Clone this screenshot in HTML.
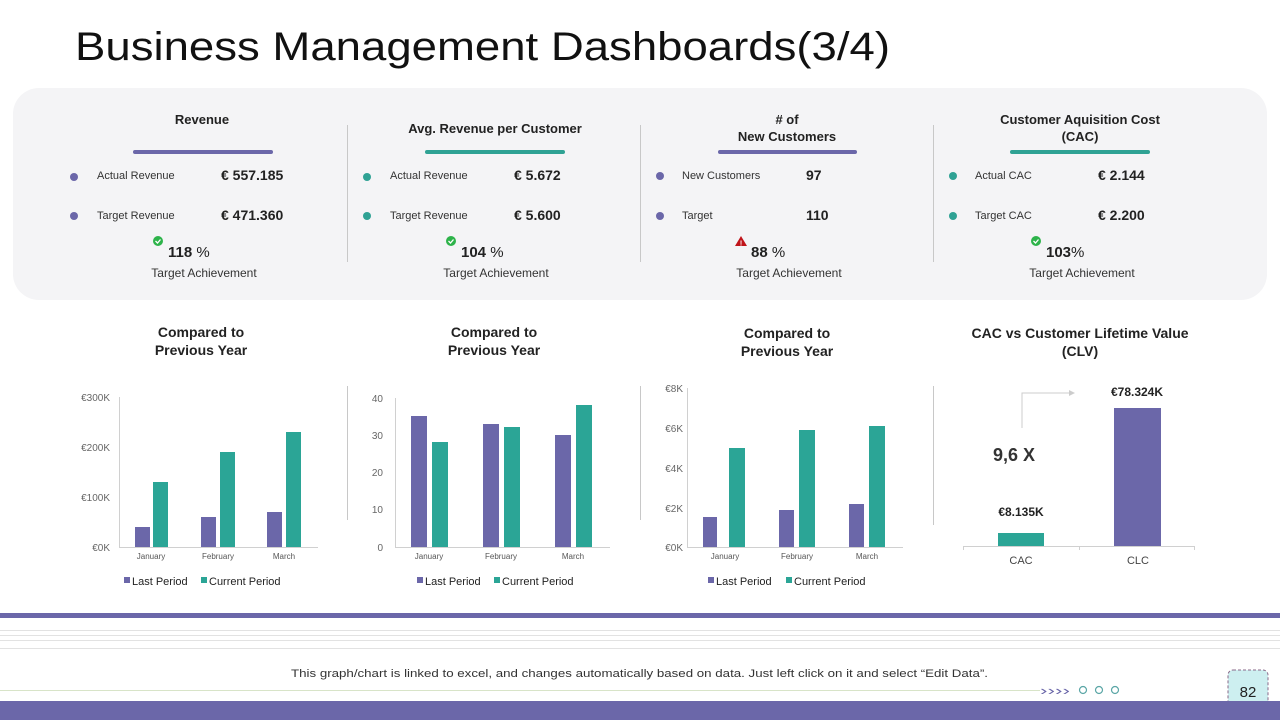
<!DOCTYPE html>
<html><head><meta charset="utf-8"><style>
html,body{margin:0;padding:0;background:#fff;}
svg{display:block;font-family:"Liberation Sans",sans-serif;}
</style></head><body>
<svg width="1280" height="720" viewBox="0 0 1280 720" xmlns="http://www.w3.org/2000/svg">
<rect width="1280" height="720" fill="#fff"/>
<text x="75" y="60" font-size="40" fill="#111" textLength="815" lengthAdjust="spacingAndGlyphs">Business Management Dashboards(3/4)</text>
<rect x="13" y="88" width="1254" height="212" rx="26" fill="#f4f4f6"/>
<g stroke="#c8c8c8" stroke-width="1">
<line x1="347.5" y1="125" x2="347.5" y2="262"/><line x1="640.5" y1="125" x2="640.5" y2="262"/><line x1="933.5" y1="125" x2="933.5" y2="262"/>
<line x1="347.5" y1="386" x2="347.5" y2="520"/><line x1="640.5" y1="386" x2="640.5" y2="520"/><line x1="933.5" y1="386" x2="933.5" y2="525"/>
</g>
<g font-weight="bold" font-size="13" fill="#222" text-anchor="middle">
<text x="202" y="124">Revenue</text>
<text x="495" y="133">Avg. Revenue per Customer</text>
<text x="787" y="124">#  of</text><text x="787" y="141">New Customers</text>
<text x="1080" y="124">Customer Aquisition Cost</text><text x="1080" y="141">(CAC)</text>
</g>
<g stroke-width="4" stroke-linecap="round">
<line x1="135" y1="152" x2="271" y2="152" stroke="#6B67A9"/>
<line x1="427" y1="152" x2="563" y2="152" stroke="#2FA294"/>
<line x1="720" y1="152" x2="855" y2="152" stroke="#6B67A9"/>
<line x1="1012" y1="152" x2="1148" y2="152" stroke="#2FA294"/>
</g>
<g fill="#6B67A9"><circle cx="74" cy="177" r="4"/><circle cx="74" cy="216" r="4"/><circle cx="660" cy="176" r="4"/><circle cx="660" cy="216" r="4"/></g>
<g fill="#2FA294"><circle cx="367" cy="177" r="4"/><circle cx="367" cy="216" r="4"/><circle cx="953" cy="176" r="4"/><circle cx="953" cy="216" r="4"/></g>
<g font-size="11" fill="#333">
<text x="97" y="179">Actual Revenue</text><text x="97" y="219">Target Revenue</text>
<text x="390" y="179">Actual Revenue</text><text x="390" y="219">Target Revenue</text>
<text x="682" y="179">New Customers</text><text x="682" y="219">Target</text>
<text x="975" y="179">Actual CAC</text><text x="975" y="219">Target CAC</text>
</g>
<g font-size="14" font-weight="bold" fill="#222">
<text x="221" y="180">€ 557.185</text><text x="221" y="220">€ 471.360</text>
<text x="514" y="180">€ 5.672</text><text x="514" y="220">€ 5.600</text>
<text x="806" y="180">97</text><text x="806" y="220">110</text>
<text x="1098" y="180">€ 2.144</text><text x="1098" y="220">€ 2.200</text>
</g>
<g fill="#2db34a"><circle cx="158" cy="241" r="5"/><circle cx="451" cy="241" r="5"/><circle cx="1036" cy="241" r="5"/></g>
<g stroke="#fff" stroke-width="1.3" fill="none"><path d="M155.5 241l2 2 3-3.5"/><path d="M448.5 241l2 2 3-3.5"/><path d="M1033.5 241l2 2 3-3.5"/></g>
<path d="M741 236l6 10h-12z" fill="#c0141a"/><text x="741" y="245.5" font-size="7" fill="#fff" text-anchor="middle" font-weight="bold">!</text>
<g font-size="15" fill="#222"><text x="168" y="257"><tspan font-weight="bold">118</tspan> %</text><text x="461" y="257"><tspan font-weight="bold">104</tspan> %</text><text x="751" y="257"><tspan font-weight="bold">88</tspan> %</text><text x="1046" y="257"><tspan font-weight="bold">103</tspan>%</text></g>
<g font-size="12" fill="#333" text-anchor="middle"><text x="204" y="277">Target Achievement</text><text x="496" y="277">Target Achievement</text><text x="789" y="277">Target Achievement</text><text x="1082" y="277">Target Achievement</text></g>
<g font-weight="bold" font-size="14" fill="#222" text-anchor="middle">
<text x="201" y="337">Compared to</text><text x="201" y="355">Previous Year</text>
<text x="494" y="337">Compared to</text><text x="494" y="355">Previous Year</text>
<text x="787" y="338">Compared to</text><text x="787" y="356">Previous Year</text>
<text x="1080" y="338">CAC vs Customer Lifetime Value</text><text x="1080" y="356">(CLV)</text>
</g>
<g stroke="#d0d0d0" stroke-width="1">
<line x1="119.5" y1="397" x2="119.5" y2="547"/><line x1="119" y1="547.5" x2="318" y2="547.5"/>
<line x1="395.5" y1="398" x2="395.5" y2="547"/><line x1="395" y1="547.5" x2="610" y2="547.5"/>
<line x1="687.5" y1="388" x2="687.5" y2="547"/><line x1="687" y1="547.5" x2="903" y2="547.5"/>
<line x1="963" y1="546.5" x2="1194" y2="546.5"/>
<line x1="963.5" y1="546" x2="963.5" y2="550"/><line x1="1079.5" y1="546" x2="1079.5" y2="550"/><line x1="1194.5" y1="546" x2="1194.5" y2="550"/>
</g>
<g font-size="10" fill="#666" text-anchor="end">
<text x="110" y="401">€300K</text><text x="110" y="451">€200K</text><text x="110" y="501">€100K</text><text x="110" y="551">€0K</text>
<text x="383" y="402">40</text><text x="383" y="439">30</text><text x="383" y="476">20</text><text x="383" y="513">10</text><text x="383" y="551">0</text>
<text x="683" y="392">€8K</text><text x="683" y="432">€6K</text><text x="683" y="472">€4K</text><text x="683" y="512">€2K</text><text x="683" y="551">€0K</text>
</g>
<g fill="#6B67A9">
<rect x="135" y="527" width="15" height="20"/><rect x="201" y="517" width="15" height="30"/><rect x="267" y="512" width="15" height="35"/>
<rect x="411" y="416" width="16" height="131"/><rect x="483" y="424" width="16" height="123"/><rect x="555" y="435" width="16" height="112"/>
<rect x="703" y="517" width="14" height="30"/><rect x="779" y="510" width="15" height="37"/><rect x="849" y="504" width="15" height="43"/>
<rect x="1114" y="408" width="47" height="138"/>
</g>
<g fill="#2BA596">
<rect x="153" y="482" width="15" height="65"/><rect x="220" y="452" width="15" height="95"/><rect x="286" y="432" width="15" height="115"/>
<rect x="432" y="442" width="16" height="105"/><rect x="504" y="427" width="16" height="120"/><rect x="576" y="405" width="16" height="142"/>
<rect x="729" y="448" width="16" height="99"/><rect x="799" y="430" width="16" height="117"/><rect x="869" y="426" width="16" height="121"/>
<rect x="998" y="533" width="46" height="13"/>
</g>
<g font-size="8" fill="#555" text-anchor="middle">
<text x="151" y="559">January</text><text x="218" y="559">February</text><text x="284" y="559">March</text>
<text x="429" y="559">January</text><text x="501" y="559">February</text><text x="573" y="559">March</text>
<text x="725" y="559">January</text><text x="797" y="559">February</text><text x="867" y="559">March</text>
</g>
<g font-size="11" fill="#222">
<rect x="124" y="577" width="6" height="6" fill="#6B67A9"/><text x="132" y="585">Last Period</text>
<rect x="201" y="577" width="6" height="6" fill="#2BA596"/><text x="209" y="585">Current Period</text>
<rect x="417" y="577" width="6" height="6" fill="#6B67A9"/><text x="425" y="585">Last Period</text>
<rect x="494" y="577" width="6" height="6" fill="#2BA596"/><text x="502" y="585">Current Period</text>
<rect x="708" y="577" width="6" height="6" fill="#6B67A9"/><text x="716" y="585">Last Period</text>
<rect x="786" y="577" width="6" height="6" fill="#2BA596"/><text x="794" y="585">Current Period</text>
</g>
<g font-size="11" fill="#444" text-anchor="middle"><text x="1021" y="564">CAC</text><text x="1138" y="564">CLC</text></g>
<g font-weight="bold" font-size="12" fill="#222" text-anchor="middle"><text x="1137" y="396">€78.324K</text><text x="1021" y="516">€8.135K</text></g>
<text x="993" y="461" font-size="18" font-weight="bold" fill="#333">9,6 X</text>
<path d="M1022 428V393H1070" stroke="#ccc" fill="none" stroke-width="1"/><path d="M1069 390l6 3-6 3z" fill="#ccc"/>
<rect x="0" y="613" width="1280" height="5" fill="#6B67A9"/>
<g stroke="#e2e2e2" stroke-width="1"><line x1="0" y1="630.5" x2="1280" y2="630.5"/><line x1="0" y1="635.5" x2="1280" y2="635.5"/><line x1="0" y1="640.5" x2="1280" y2="640.5"/><line x1="0" y1="648.5" x2="1280" y2="648.5"/></g>
<text x="291" y="677" font-size="11" fill="#333" textLength="697" lengthAdjust="spacingAndGlyphs">This graph/chart is linked to excel, and changes automatically based on data. Just left click on it and select “Edit Data”.</text>
<line x1="0" y1="690.5" x2="1040" y2="690.5" stroke="#d8e4c8" stroke-width="1"/>
<text x="1040" y="695" font-size="13" fill="#6B67A9" textLength="30" lengthAdjust="spacingAndGlyphs">››››</text>
<g fill="none" stroke="#5aa6a6" stroke-width="1.2"><circle cx="1083" cy="690" r="3.5"/><circle cx="1099" cy="690" r="3.5"/><circle cx="1115" cy="690" r="3.5"/></g>
<rect x="1228" y="670" width="40" height="40" rx="5" fill="#cdeff0" stroke="#8a6a8a" stroke-dasharray="3,2"/>
<text x="1248" y="697" font-size="15" fill="#222" text-anchor="middle">82</text>
<rect x="0" y="701" width="1280" height="19" fill="#6B67A9"/>
</svg>
</body></html>
